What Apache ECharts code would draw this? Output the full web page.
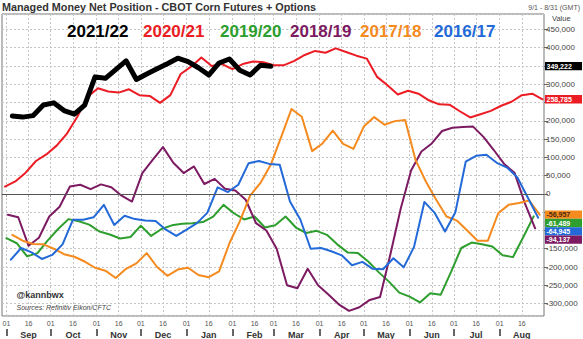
<!DOCTYPE html>
<html><head><meta charset="utf-8">
<script src="https://cdn.jsdelivr.net/npm/echarts@6/dist/echarts.min.js"></script>
<style>html,body{margin:0;padding:0;background:#fff}#c{width:583px;height:339px}</style>
</head><body><div id="c"></div>
<script>
// ---------- data ----------
const seasons = ['2021/22', '2020/21', '2019/20', '2018/19', '2017/18', '2016/17'];
const seasonColors = ['#000000', '#ec1c24', '#2e9e2e', '#7c1a62', '#f58a1f', '#2369d8'];
const monthNames = ['Sep', 'Oct', 'Nov', 'Dec', 'Jan', 'Feb', 'Mar', 'Apr', 'May', 'Jun', 'Jul', 'Aug'];
const dayTickLabels = ['01', '16'];
// index (day on the axis) of first weekly report, one per season
const firstReportDay = [7, 2, 3, 4, 7, 6];

const net2122 = [213000, 210000, 214000, 243000, 249000, 228000, 218000, 243000, 320000, 316000, 340000, 364000, 313000,
  328000, 342000, 356000, 371000, 362000, 345000, 325000, 358000, 369000, 338000, 325000, 352000, 349222];
const net2021 = [20000, 34000, 58000, 90000, 108000, 132000, 165000, 211000, 266000, 289000, 280000, 277000, 286000,
  270000, 268000, 249000, 270000, 328000, 348000, 373000, 350000, 355000, 341000, 355000, 362000, 360000, 352000,
  352000, 364000, 380000, 391000, 386000, 398000, 388000, 378000, 370000, 320000, 297000, 272000, 282000, 274000,
  256000, 245000, 244000, 226000, 209000, 218000, 227000, 241000, 252000, 270000, 274000, 258785];
const net1920 = [-121000, -135000, -171000, -162000, -127000, -96000, -69000, -75000, -84000, -103000, -111000, -122000,
  -118000, -87000, -115000, -96000, -86000, -82000, -80000, -77000, -62000, -30000, -53000, -70000, -62000, -92000,
  -86000, -62000, -92000, -107000, -101000, -112000, -138000, -160000, -162000, -185000, -214000, -240000, -270000,
  -281000, -297000, -272000, -276000, -214000, -148000, -133000, -138000, -144000, -168000, -173000, -118000, -61489];
const net1819 = [-57000, -64000, -142000, -120000, -62000, -35000, 20000, 25000, 13000, 26000, 18000, -5000, -21000,
  57000, 93000, 128000, 85000, 57000, 75000, 27000, 41000, 14000, 9000, -16000, -80000, -100000, -150000, -250000,
  -258000, -205000, -250000, -275000, -302000, -320000, -310000, -290000, -282000, -165000, -40000, 64000, 116000,
  138000, 172000, 181000, 183000, 184000, 156000, 120000, 82000, 58000, -25000, -94137];
const net1718 = [-112000, -128000, -137000, -138000, -150000, -165000, -172000, -185000, -202000, -210000, -230000,
  -205000, -190000, -162000, -200000, -224000, -207000, -202000, -222000, -228000, -212000, -135000, -75000, -5000,
  30000, 80000, 155000, 232000, 211000, 117000, 138000, 173000, 137000, 123000, 184000, 210000, 189000, 199000,
  202000, 93000, 34000, -16000, -62000, -73000, -100000, -128000, -128000, -53000, -30000, -25000, -18000, -56957];
const net1617 = [-180000, -148000, -160000, -178000, -167000, -138000, -71000, -71000, -64000, -30000, -85000, -60000,
  -69000, -73000, -74000, -98000, -115000, -98000, -80000, -52000, 18000, 5000, 25000, 84000, 90000, 82000, 80000,
  -21000, -70000, -150000, -148000, -157000, -168000, -195000, -186000, -205000, -206000, -176000, -201000, -145000,
  -22000, -52000, -103000, -50000, 88000, 104000, 107000, 85000, 72000, 45000, -10000, -64945];
const seasonValues = [net2122, net2021, net1920, net1819, net1718, net1617];

// day categories: 29 Aug .. 31 Aug of following year
const categories = [];
for (let t = Date.UTC(2021, 7, 29); t <= Date.UTC(2022, 7, 31); t += 86400000) {
  categories.push(new Date(t).toISOString().slice(0, 10));
}
const isDayTick = (i, v) => dayTickLabels.indexOf(String(v).slice(8)) >= 0;
const isMonthStart = (i, v) => String(v).slice(8) === dayTickLabels[0];
const isMidMonth = (i, v) => String(v).slice(8) === dayTickLabels[1];
const monthName = v => monthNames[(parseInt(String(v).slice(5, 7), 10) + 3) % 12];
const fmt = v => String(v).replace(/\B(?=(\d{3})+(?!\d))/g, ',');

const FONT = '"Liberation Sans", Arial, sans-serif';
const chart = echarts.init(document.getElementById('c'), null, {renderer: 'svg'});

const series = seasons.map((name, s) => ({
  name: name,
  type: 'line',
  data: seasonValues[s].map((v, i) => [firstReportDay[s] + 7 * i, v]),
  showSymbol: false,
  symbol: 'none',
  z: s === 0 ? 10 : 3,
  lineStyle: {color: seasonColors[s], width: s === 0 ? 5 : 2, join: 'round', cap: 'round'},
  itemStyle: {color: seasonColors[s]},
  animation: false,
  markLine: s === 1 ? {
    silent: true, symbol: 'none', animation: false, label: {show: false},
    lineStyle: {color: '#555', width: 1, type: 'solid'},
    data: [{yAxis: 0}]
  } : undefined
}));

const yLabelStyle = {margin: 2, fontSize: 8, color: '#444', fontFamily: FONT, showMinLabel: false, showMaxLabel: false};

chart.setOption({
  animation: false,
  backgroundColor: '#fff',
  grid: {left: 2, right: 39, top: 14, bottom: 23, show: true, borderColor: '#777', borderWidth: 1,
    containLabel: false, outerBoundsMode: 'none'},
  xAxis: [{
    type: 'category', data: categories, boundaryGap: false, position: 'bottom',
    axisLine: {show: true, lineStyle: {color: '#777'}},
    axisTick: {show: true, length: 3, interval: isDayTick, lineStyle: {color: '#999'}},
    axisLabel: {interval: isDayTick, formatter: v => String(v).slice(8), fontSize: 7, color: '#555',
      fontFamily: FONT, margin: 4},
    splitLine: {show: true, interval: isDayTick, lineStyle: {color: '#c6c6c6', type: [2, 2], width: 1}}
  }, {
    type: 'category', data: categories, boundaryGap: false, position: 'bottom', offset: 13,
    axisLine: {show: false},
    axisTick: {show: true, length: 7, interval: isMonthStart, lineStyle: {color: '#333', width: 1.5}},
    axisLabel: {interval: isMidMonth, formatter: monthName, fontSize: 9, fontWeight: 'bold', color: '#333',
      fontFamily: FONT, margin: 1},
    splitLine: {show: false}
  }],
  yAxis: {
    type: 'value', position: 'right', min: -334000, max: 492000, splitNumber: 16,
    minInterval: 50000, maxInterval: 50000,
    axisLine: {show: false},
    axisTick: {show: true, length: 4, lineStyle: {color: '#666'}},
    axisLabel: Object.assign({formatter: v => (v % 50000 === 0 ? fmt(v) : '')}, yLabelStyle),
    splitLine: {show: true, lineStyle: {color: '#c6c6c6', type: [2, 2], width: 1}}
  },
  series: series
});

// ---------- texts and end labels ----------
const seasonLabelX = [67, 143, 220, 290, 360, 434];
const texts = [
  {x: 2, y: 7, text: 'Managed Money Net Position - CBOT Corn Futures + Options', font: 'bold 10.8px ' + FONT, fill: '#333', align: 'left'},
  {x: 580, y: 7, text: '9/1 - 8/31 (GMT)', font: '7px ' + FONT, fill: '#555', align: 'right'},
  {x: 552, y: 18.5, text: 'Value', font: '7.5px ' + FONT, fill: '#444', align: 'left'},
  {x: 16.5, y: 295, text: '@kannbwx', font: 'bold 9px ' + FONT, fill: '#333', align: 'left'},
  {x: 16.5, y: 307.5, text: 'Sources: Refinitiv Eikon/CFTC', font: 'italic 7px ' + FONT, fill: '#444', align: 'left'}
].concat(seasons.map((s, i) => ({x: seasonLabelX[i], y: 31.5, text: s, font: 'bold 17px ' + FONT,
  fill: seasonColors[i], align: 'left'})));

const graphics = texts.map(t => ({
  type: 'text', x: t.x, y: t.y, silent: true,
  style: {text: t.text, font: t.font, fill: t.fill, align: t.align, verticalAlign: 'middle'}
}));

// end-of-series value boxes on the right axis
const ends = seasons.map((s, i) => ({value: seasonValues[i][seasonValues[i].length - 1], color: seasonColors[i], i}))
  .sort((a, b) => b.value - a.value);
const boxH = 8.3;
const boxYs = [];
let prevY = -1e9;
ends.forEach(e => {
  let y = chart.convertToPixel({yAxisIndex: 0}, e.value);
  if (y < prevY + boxH) y = prevY + boxH;
  prevY = y;
  boxYs.push(y);
  graphics.push({type: 'rect', silent: true, shape: {x: 545, y: y - boxH / 2, width: 37, height: boxH},
    style: {fill: e.color}, z: 20});
  graphics.push({type: 'text', silent: true, x: 546.5, y: y, z: 21,
    style: {text: fmt(e.value), font: 'bold 7px ' + FONT, fill: e.color === '#f58a1f' ? '#4a2a10' : '#fff',
      align: 'left', verticalAlign: 'middle'}});
});

// axis labels covered by the value boxes are not shown (as in the source chart)
const covered = v => boxYs.some(y => Math.abs(chart.convertToPixel({yAxisIndex: 0}, v) - y) < boxH / 2 + 4);
chart.setOption({
  yAxis: {axisLabel: Object.assign({formatter: v => (v % 50000 === 0 && !covered(v) ? fmt(v) : '')}, yLabelStyle)},
  graphic: graphics
});
</script>
</body></html>
